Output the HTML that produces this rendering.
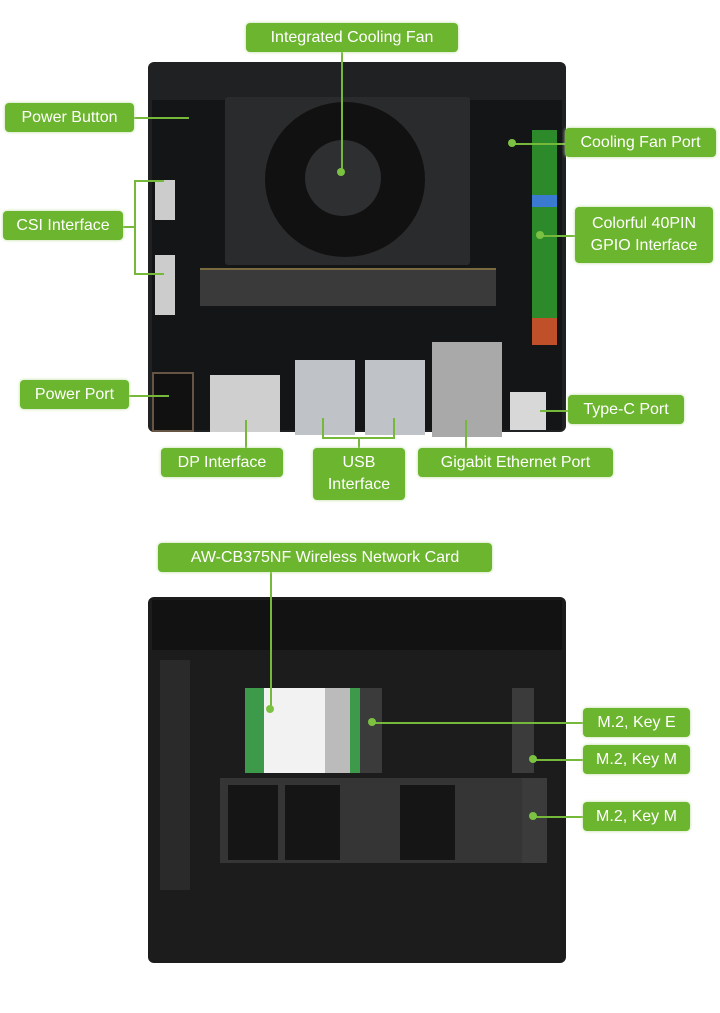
<!DOCTYPE html><html><head><style>
body{margin:0;width:720px;height:1013px;background:#fff;position:relative;overflow:hidden;font-family:"Liberation Sans",sans-serif}
div{position:absolute;box-sizing:border-box}
.l{background:#6cb52e;color:#fff;font-size:16px;border-radius:4px;text-align:center;line-height:29px;box-shadow:0 0 3px #b8db9a;white-space:nowrap}
.h{background:#76b83a;height:2px}.v{background:#76b83a;width:2px}
.d{width:8px;height:8px;border-radius:50%;background:#7cc242}
</style></head><body>
<!-- top board -->
<div style="left:148px;top:62px;width:418px;height:370px;background:#202122;border-radius:6px"></div>
<div style="left:152px;top:100px;width:410px;height:330px;background:#141516"></div>
<div style="left:225px;top:97px;width:245px;height:168px;background:#2a2b2d;border-radius:3px"></div>
<div style="left:265px;top:102px;width:160px;height:155px;border-radius:50%;background:#111"></div>
<div style="left:305px;top:140px;width:76px;height:76px;border-radius:50%;background:#2e2f31"></div>
<div style="left:200px;top:268px;width:296px;height:38px;background:#3a3a3a;border-top:2px solid #7a6a40"></div>
<div style="left:532px;top:130px;width:25px;height:215px;background:#2d8a2a"></div>
<div style="left:532px;top:318px;width:25px;height:27px;background:#c0502a"></div>
<div style="left:532px;top:195px;width:25px;height:12px;background:#3a7ad0"></div>
<div style="left:155px;top:180px;width:20px;height:40px;background:#ccc"></div>
<div style="left:155px;top:255px;width:20px;height:60px;background:#ccc"></div>
<div style="left:152px;top:372px;width:42px;height:60px;background:#111;border:2px solid #654"></div>
<div style="left:210px;top:375px;width:70px;height:57px;background:#cfcfcf"></div>
<div style="left:295px;top:360px;width:60px;height:75px;background:#bfc3c8"></div>
<div style="left:365px;top:360px;width:60px;height:75px;background:#bfc3c8"></div>
<div style="left:432px;top:342px;width:70px;height:95px;background:#a9a9a9"></div>
<div style="left:510px;top:392px;width:36px;height:38px;background:#d8d8d8"></div>
<!-- top labels -->
<div class="v" style="left:341px;top:50px;height:122px"></div><div class="d" style="left:337px;top:168px"></div>
<div class="l" style="left:246px;top:23px;width:212px">Integrated Cooling Fan</div>
<div class="h" style="left:134px;top:117px;width:55px"></div>
<div class="l" style="left:5px;top:103px;width:129px">Power Button</div>
<div class="h" style="left:512px;top:143px;width:55px"></div><div class="d" style="left:508px;top:139px"></div>
<div class="l" style="left:565px;top:128px;width:151px">Cooling Fan Port</div>
<div class="h" style="left:123px;top:226px;width:12px"></div>
<div class="v" style="left:134px;top:180px;height:95px"></div>
<div class="h" style="left:134px;top:180px;width:30px"></div><div class="h" style="left:134px;top:273px;width:30px"></div>
<div class="l" style="left:3px;top:211px;width:120px">CSI Interface</div>
<div class="h" style="left:540px;top:235px;width:36px"></div><div class="d" style="left:536px;top:231px"></div>
<div class="l" style="left:575px;top:207px;width:138px;line-height:22px;padding-top:6px;height:56px">Colorful 40PIN<br>GPIO Interface</div>
<div class="h" style="left:129px;top:395px;width:40px"></div>
<div class="l" style="left:20px;top:380px;width:109px">Power Port</div>
<div class="h" style="left:540px;top:410px;width:30px"></div>
<div class="l" style="left:568px;top:395px;width:116px">Type-C Port</div>
<div class="v" style="left:245px;top:420px;height:30px"></div>
<div class="l" style="left:161px;top:448px;width:122px">DP Interface</div>
<div class="v" style="left:322px;top:418px;height:20px"></div><div class="v" style="left:393px;top:418px;height:20px"></div>
<div class="h" style="left:322px;top:437px;width:73px"></div><div class="v" style="left:358px;top:437px;height:12px"></div>
<div class="l" style="left:313px;top:448px;width:92px;height:52px;line-height:22px;padding-top:4px">USB<br>Interface</div>
<div class="v" style="left:465px;top:420px;height:30px"></div>
<div class="l" style="left:418px;top:448px;width:195px">Gigabit Ethernet Port</div>
<!-- bottom board -->
<div style="left:148px;top:597px;width:418px;height:366px;background:#1c1c1d;border-radius:6px"></div>
<div style="left:152px;top:600px;width:410px;height:50px;background:#121213"></div>
<div style="left:160px;top:660px;width:30px;height:230px;background:#2a2a2a"></div>
<div style="left:245px;top:688px;width:115px;height:85px;background:#3c9a4a"></div>
<div style="left:264px;top:688px;width:86px;height:85px;background:#f2f2f2"></div>
<div style="left:325px;top:688px;width:25px;height:85px;background:#bbb"></div>
<div style="left:360px;top:688px;width:22px;height:85px;background:#3b3b3b"></div>
<div style="left:512px;top:688px;width:22px;height:85px;background:#3b3b3b"></div>
<div style="left:220px;top:778px;width:302px;height:85px;background:#353535"></div>
<div style="left:228px;top:785px;width:50px;height:75px;background:#151515"></div>
<div style="left:285px;top:785px;width:55px;height:75px;background:#151515"></div>
<div style="left:400px;top:785px;width:55px;height:75px;background:#151515"></div>
<div style="left:522px;top:778px;width:25px;height:85px;background:#3b3b3b"></div>
<div class="v" style="left:270px;top:569px;height:140px"></div><div class="d" style="left:266px;top:705px"></div>
<div class="l" style="left:158px;top:543px;width:334px">AW-CB375NF Wireless Network Card</div>
<div class="h" style="left:372px;top:722px;width:212px"></div><div class="d" style="left:368px;top:718px"></div>
<div class="l" style="left:583px;top:708px;width:107px">M.2, Key E</div>
<div class="h" style="left:533px;top:759px;width:52px"></div><div class="d" style="left:529px;top:755px"></div>
<div class="l" style="left:583px;top:745px;width:107px">M.2, Key M</div>
<div class="h" style="left:533px;top:816px;width:52px"></div><div class="d" style="left:529px;top:812px"></div>
<div class="l" style="left:583px;top:802px;width:107px">M.2, Key M</div>
</body></html>
